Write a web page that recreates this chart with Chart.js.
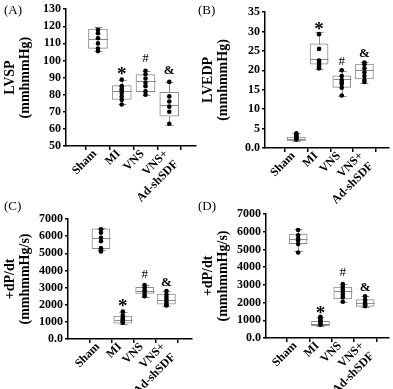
<!DOCTYPE html>
<html lang="en">
<head>
  <meta charset="UTF-8">
  <title>LV hemodynamics</title>
  <style>
    body {
      margin: 0;
      background: #fff;
    }
    #wrap {
      position: relative;
      width: 393px;
      height: 389px;
      overflow: hidden;
    }
    #wrap canvas {
      position: absolute;
    }
    .tag {
      position: absolute;
      font: 13px "Liberation Serif", "Times New Roman", serif;
      color: #000;
    }
  </style>
</head>
<body>
  <div id="wrap">
    <canvas id="chartA" width="200" height="210" style="left:0;top:0"></canvas>
    <canvas id="chartB" width="195" height="210" style="left:198px;top:0"></canvas>
    <canvas id="chartC" width="200" height="194" style="left:0;top:195px"></canvas>
    <canvas id="chartD" width="195" height="194" style="left:198px;top:195px"></canvas>
    <div class="tag" style="left:4px;top:2px">(A)</div>
    <div class="tag" style="left:198px;top:2px">(B)</div>
    <div class="tag" style="left:4px;top:198px">(C)</div>
    <div class="tag" style="left:198px;top:198px">(D)</div>
  </div>

  <script src="https://cdn.jsdelivr.net/npm/chart.js"></script>
  <script>
    const groups = ['Sham', 'MI', 'VNS', ['VNS+', 'Ad-shSDF']];
    const symbols = ['', '*', '#', '&'];

    // box stats per group: [min, q1, median, q3, max]
    const lvspBox = [[105.7, 107.1, 112.5, 118.4, 119.3], [74.3, 77.2, 82.4, 85.3, 88.8], [80, 81.7, 88.3, 91.7, 94], [62.5, 67.5, 73.7, 81.4, 87.5]];
    const lvspDots = [[118, 116, 113, 110, 107, 105.5], [88.8, 85, 83.5, 82.5, 81, 79, 77, 74.3], [94, 92, 89.5, 87, 85, 82, 80], [87.5, 79, 76, 73, 70, 63]];
    const lvspMarks = [null, 93.7, 101.2, 94.1];

    const lvedpBox = [[1.7, 1.8, 2.2, 2.8, 3.9], [20.3, 21.6, 22.8, 26.8, 29.8], [13.5, 15.6, 17.8, 18.6, 19.9], [16.7, 17.8, 20, 21.6, 22.1]];
    const lvedpDots = [[3.8, 3.3, 3, 2.5, 2.2], [29.3, 25.5, 22.5, 22, 21.5, 21, 20.5], [20, 18.5, 17.5, 17, 16.5, 15.5, 13.5], [22, 21.5, 20.5, 19.5, 18.5, 17.5, 17]];
    const lvedpMarks = [null, 31.5, 22.3, 24.2];

    const dpdtCBox = [[5165, 5265, 5894, 6424, 6482], [880, 929, 1088, 1343, 1578], [2461, 2657, 2814, 3010, 3147], [1912, 2030, 2304, 2618, 2814]];
    const dpdtCDots = [[6400, 6200, 5900, 5700, 5300, 5200, 5100], [1600, 1400, 1250, 1150, 1050, 1000, 950], [3150, 3000, 2850, 2750, 2600, 2500], [2800, 2600, 2450, 2300, 2150, 2000, 1950]];
    const dpdtCMarks = [null, 2106, 3735, 3306];

    const dpdtDBox = [[4890, 5325, 5607, 5872, 6155], [695, 695, 807, 937, 1186], [2033, 2202, 2631, 2880, 3049], [1750, 1784, 1975, 2163, 2349]];
    const dpdtDDots = [[6100, 5800, 5600, 5500, 5300, 4830], [1200, 1100, 1000, 900, 800, 750], [3050, 2900, 2750, 2600, 2450, 2300, 2050], [2350, 2150, 2000, 1900, 1800]];
    const dpdtDMarks = [null, 1598, 3670, 2823];

    const serif = '"Liberation Serif", "Times New Roman", serif';
    const boxColor = '#8a8a8a';

    // whiskers, median line and the significance symbols
    function boxPlugin(stats, marks, boxW) {
      return {
        id: 'boxExtras',
        afterDatasetDraw(chart, args) {
          if (args.index !== 0) return;
          const ctx = chart.ctx;
          const xs = chart.scales.x, ys = chart.scales.y;
          const seg = (x1, y1, x2, y2) => {
            ctx.beginPath();
            ctx.moveTo(x1, y1);
            ctx.lineTo(x2, y2);
            ctx.stroke();
          };
          ctx.save();
          ctx.strokeStyle = boxColor;
          ctx.lineWidth = 1;
          stats.forEach((s, i) => {
            const cx = Math.round(xs.getPixelForValue(i)) + 0.5;
            const half = boxW / 2;
            const p = s.map(v => Math.round(ys.getPixelForValue(v)) + 0.5);
            seg(cx - half, p[2], cx + half, p[2]);
            seg(cx, p[3], cx, p[4]);
            seg(cx - 4, p[4], cx + 4, p[4]);
            seg(cx, p[1], cx, p[0]);
            seg(cx - 4, p[0], cx + 4, p[0]);
          });
          ctx.restore();
        },
        afterDraw(chart) {
          const ctx = chart.ctx;
          const xs = chart.scales.x, ys = chart.scales.y;
          ctx.save();
          ctx.fillStyle = '#000';
          ctx.textAlign = 'center';
          ctx.textBaseline = 'middle';
          marks.forEach((m, i) => {
            if (m === null) return;
            let dy = 0;
            if (symbols[i] === '*') {
              ctx.font = 'bold 19px ' + serif;
              dy = 4;
            } else if (symbols[i] === '#') {
              ctx.font = '13px ' + serif;
            } else {
              ctx.font = 'bold 13px ' + serif;
            }
            ctx.fillText(symbols[i], xs.getPixelForValue(i), ys.getPixelForValue(m) + dy);
          });
          ctx.restore();
        }
      };
    }

    function makePanel(id, p) {
      const ctx = document.getElementById(id).getContext('2d');
      const dots = [];
      p.dots.forEach((list, i) => list.forEach(v => dots.push({ x: i, y: v })));
      return new Chart(ctx, {
        type: 'bar',
        data: {
          datasets: [{
            data: p.box.map((s, i) => ({ x: i, y: [s[1], s[3]] })),
            order: 2,
            backgroundColor: '#fff',
            borderColor: boxColor,
            borderWidth: 1,
            borderSkipped: false,
            barThickness: p.boxW
          }, {
            type: 'scatter',
            data: dots,
            order: 1,
            pointRadius: 2.3,
            pointBackgroundColor: '#000',
            pointBorderWidth: 0
          }]
        },
        options: {
          responsive: false,
          animation: false,
          devicePixelRatio: 1,
          layout: { padding: { left: 1, top: p.top, right: p.right, bottom: 0 } },
          plugins: { legend: { display: false }, tooltip: { enabled: false } },
          scales: {
            x: {
              type: 'linear',
              min: p.xMin,
              max: p.xMax,
              afterBuildTicks: s => { s.ticks = groups.map((g, i) => ({ value: i })); },
              afterFit: s => { s.height = p.xH; },
              grid: { drawOnChartArea: false, drawTicks: true, tickLength: 4, color: '#000', lineWidth: 1.5 },
              border: { color: '#000', width: 1.5 },
              ticks: {
                autoSkip: false,
                minRotation: 45,
                maxRotation: 45,
                padding: -3,
                labelOffset: -3,
                color: '#000',
                font: { family: serif, weight: 'bold', size: 12 },
                callback: v => groups[v]
              }
            },
            y: {
              min: p.yMin,
              max: p.yMax,
              afterFit: s => { s.width = p.yW; },
              grid: { drawOnChartArea: false, drawTicks: true, tickLength: 3, color: '#000', lineWidth: 1.5 },
              border: { color: '#000', width: 1.5 },
              ticks: {
                stepSize: p.step,
                autoSkip: false,
                padding: 2,
                color: '#000',
                font: { family: serif, weight: 'bold', size: 12 },
                callback: v => v === 0 ? '0.0' : v
              },
              title: {
                display: true,
                text: p.title,
                color: '#000',
                padding: 2,
                font: { family: serif, weight: 'bold', size: 14, lineHeight: 1.07 }
              }
            }
          }
        },
        plugins: [boxPlugin(p.box, p.marks, p.boxW)]
      });
    }

    makePanel('chartA', {
      box: lvspBox, dots: lvspDots, marks: lvspMarks, title: ['LVSP', '(mmhmmHg)'],
      yMin: 50, yMax: 130, step: 10, xMin: -0.66, xMax: 3.44,
      top: 8, right: 2, yW: 65, xH: 64, boxW: 19
    });
    makePanel('chartB', {
      box: lvedpBox, dots: lvedpDots, marks: lvedpMarks, title: ['LVEDP', '(mmhmmHg)'],
      yMin: 0, yMax: 35, step: 5, xMin: -0.7, xMax: 3.4,
      top: 12, right: 3, yW: 66, xH: 62, boxW: 18
    });
    makePanel('chartC', {
      box: dpdtCBox, dots: dpdtCDots, marks: dpdtCMarks, title: ['+dP/dt', '(mmhmmHg/s)'],
      yMin: 0, yMax: 7000, step: 1000, xMin: -0.8, xMax: 3.46,
      top: 24, right: 8, yW: 67, xH: 50, boxW: 18
    });
    makePanel('chartD', {
      box: dpdtDBox, dots: dpdtDDots, marks: dpdtDMarks, title: ['+dP/dt', '(mmhmmHg/s)'],
      yMin: 0, yMax: 7000, step: 1000, xMin: -0.75, xMax: 3.38,
      top: 19, right: 2, yW: 67, xH: 51, boxW: 18
    });
  </script>
</body>
</html>
